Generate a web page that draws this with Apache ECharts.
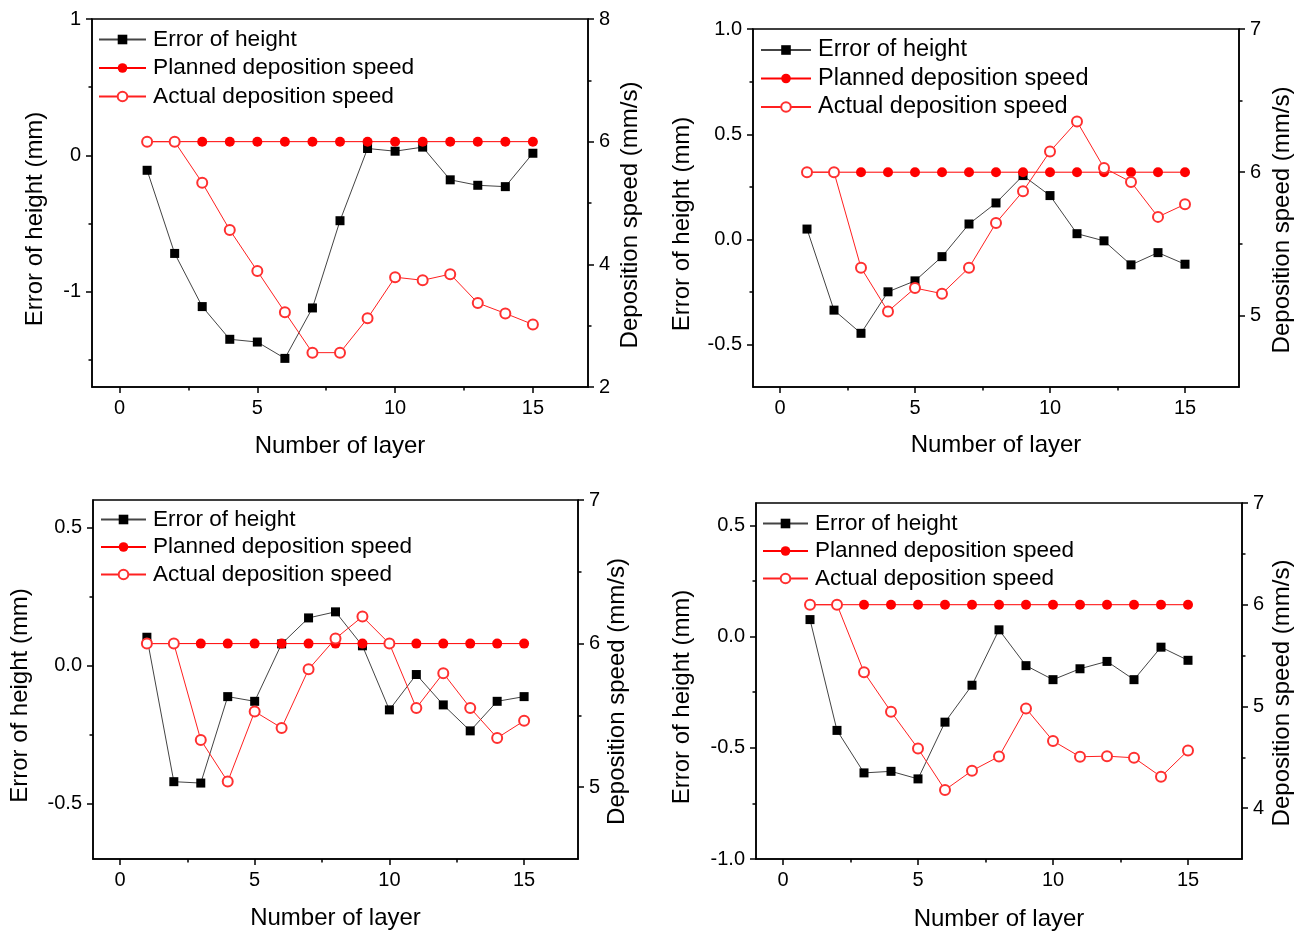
<!DOCTYPE html>
<html>
<head>
<meta charset="utf-8">
<script src="https://cdn.jsdelivr.net/npm/echarts@6/dist/echarts.min.js"></script>
<style>
  html, body { margin: 0; padding: 0; background: #fff; }
  #chart { width: 1298px; height: 932px; }
</style>
</head>
<body>
<div id="chart"></div>
<script>
// Layer numbers shared by all four experiments
const layers = [1, 2, 3, 4, 5, 6, 7, 8, 9, 10, 11, 12, 13, 14, 15];
const plannedSpeed = [6, 6, 6, 6, 6, 6, 6, 6, 6, 6, 6, 6, 6, 6, 6];

// Experiment A (top left)
const errorA = [-0.11, -0.72, -1.11, -1.35, -1.37, -1.49, -1.12, -0.48, 0.05, 0.03, 0.06, -0.18, -0.22, -0.23, 0.015];
const speedA = [6.0, 6.0, 5.33, 4.56, 3.89, 3.22, 2.56, 2.56, 3.12, 3.79, 3.74, 3.84, 3.37, 3.20, 3.02];

// Experiment B (top right)
const errorB = [0.05, -0.335, -0.445, -0.248, -0.196, -0.081, 0.074, 0.174, 0.304, 0.209, 0.028, -0.006, -0.12, -0.062, -0.117];
const speedB = [6.0, 6.0, 5.333, 5.028, 5.191, 5.152, 5.333, 5.646, 5.867, 6.145, 6.354, 6.03, 5.932, 5.688, 5.776];

// Experiment C (bottom left)
const errorC = [0.103, -0.42, -0.425, -0.112, -0.129, 0.079, 0.173, 0.195, 0.072, -0.16, -0.032, -0.142, -0.236, -0.129, -0.112];
const speedC = [6.0, 6.0, 5.329, 5.039, 5.527, 5.413, 5.821, 6.035, 6.188, 6.0, 5.552, 5.794, 5.552, 5.343, 5.462];

// Experiment D (bottom right)
const errorD = [0.076, -0.422, -0.613, -0.606, -0.64, -0.385, -0.219, 0.03, -0.131, -0.194, -0.145, -0.112, -0.194, -0.048, -0.107];
const speedD = [6.0, 6.0, 5.336, 4.948, 4.586, 4.179, 4.368, 4.508, 4.98, 4.661, 4.505, 4.511, 4.495, 4.309, 4.567];

// Tick values
const layerTicks = [0, 5, 10, 15];
const layerMinorTicks = [2.5, 7.5, 12.5];
const errorTicksA = [-1, 0, 1];
const errorMinorA = [-1.5, -0.5, 0.5];
const speedTicksA = [2, 4, 6, 8];
const speedMinorA = [3, 5, 7];
const errorTicksB = [-0.5, 0, 0.5, 1];
const errorMinorB = [-0.25, 0.25, 0.75];
const speedTicksB = [5, 6, 7];
const speedMinorB = [5.5, 6.5];
const errorTicksC = [-0.5, 0, 0.5];
const errorMinorC = [-0.25, 0.25];
const speedTicksC = [5, 6, 7];
const speedMinorC = [5.5, 6.5];
const errorTicksD = [-1, -0.5, 0, 0.5];
const errorMinorD = [-0.75, -0.25, 0.25];
const speedTicksD = [4, 5, 6, 7];
const speedMinorD = [4.5, 5.5, 6.5];

const seriesNames = ['Error of height', 'Planned deposition speed', 'Actual deposition speed'];
const xTitle = 'Number of layer';
const leftTitle = 'Error of height (mm)';
const rightTitle = 'Deposition speed (mm/s)';

const FONT = '"Liberation Sans", Arial, sans-serif';

const panels = [
  { grid: { left: 92, top: 19, width: 496, height: 368 },
    err: errorA, speed: speedA,
    errRange: [-1.7, 1], errTicks: errorTicksA, errMinor: errorMinorA, errDigits: 0,
    speedRange: [2, 8], speedTicks: speedTicksA, speedMinor: speedMinorA,
    legend: { left: 98, top: 28, width: 47, font: 22.7, gap: 5.5 },
    gaps: { x: 47, left: 45, right: 30 }, shift: { left: 32, right: 24 } },
  { grid: { left: 753, top: 29, width: 486, height: 358 },
    err: errorB, speed: speedB,
    errRange: [-0.7, 1], errTicks: errorTicksB, errMinor: errorMinorB, errDigits: 1,
    speedRange: [4.5, 7], speedTicks: speedTicksB, speedMinor: speedMinorB,
    legend: { left: 760, top: 38, width: 50, font: 23.5, gap: 4.5 },
    gaps: { x: 46, left: 59, right: 31 }, shift: { left: 32, right: 24 } },
  { grid: { left: 93, top: 500, width: 485, height: 359 },
    err: errorC, speed: speedC,
    errRange: [-0.7, 0.6], errTicks: errorTicksC, errMinor: errorMinorC, errDigits: 1,
    speedRange: [4.5, 7], speedTicks: speedTicksC, speedMinor: speedMinorC,
    legend: { left: 100, top: 508, width: 45, font: 22.5, gap: 4.5 },
    gaps: { x: 47, left: 61, right: 27 }, shift: { left: 32, right: 24 } },
  { grid: { left: 756, top: 503, width: 486, height: 358 },
    err: errorD, speed: speedD,
    errRange: [-1, 0.6], errTicks: errorTicksD, errMinor: errorMinorD, errDigits: 1,
    speedRange: [3.5, 7], speedTicks: speedTicksD, speedMinor: speedMinorD,
    legend: { left: 762, top: 512, width: 45, font: 22.5, gap: 4.5 },
    gaps: { x: 48, left: 62, right: 28 }, shift: { left: 32, right: 24 } }
];

const labelStyle = { fontFamily: FONT, fontSize: 20, color: '#000', margin: 11 };
const titleStyle = { fontFamily: FONT, fontSize: 24, color: '#000' };
const lineBlack = { color: '#000', width: 1.5 };

function majorTicks(values) {
  return { show: true, inside: false, length: 6, lineStyle: lineBlack, customValues: values };
}
function minorAxisTicks(values) {
  return { show: true, inside: false, length: 3.5, lineStyle: lineBlack, customValues: values };
}
const shownLine = { show: true, onZero: false, lineStyle: lineBlack };
const hiddenLine = { show: false, onZero: false };

const grids = [], xAxes = [], yAxes = [], series = [], legends = [];

panels.forEach((p, i) => {
  grids.push(Object.assign({ show: true, borderColor: '#000', borderWidth: 1.5, backgroundColor: 'transparent' }, p.grid));

  // bottom axis: numbered ticks + half-step minor ticks
  xAxes.push({
    type: 'value', gridIndex: i, min: -1, max: 17, position: 'bottom',
    name: xTitle, nameLocation: 'middle', nameGap: p.gaps.x, nameTextStyle: titleStyle,
    axisLine: shownLine,
    axisTick: majorTicks(layerTicks),
    axisLabel: Object.assign({ customValues: layerTicks }, labelStyle),
    splitLine: { show: false }
  });
  xAxes.push({
    type: 'value', gridIndex: i, min: -1, max: 17, position: 'bottom',
    axisLine: hiddenLine, axisLabel: { show: false },
    axisTick: minorAxisTicks(layerMinorTicks), splitLine: { show: false }
  });

  const digits = p.errDigits;
  yAxes.push({
    type: 'value', gridIndex: i, position: 'left', min: p.errRange[0], max: p.errRange[1],
    name: leftTitle, nameLocation: 'middle', nameRotate: 90, nameGap: p.gaps.left,
    nameTextStyle: Object.assign({ padding: [0, p.shift.left, 0, 0] }, titleStyle),
    axisLine: shownLine,
    axisTick: majorTicks(p.errTicks),
    axisLabel: Object.assign({ customValues: p.errTicks, formatter: v => Number(v).toFixed(digits) }, labelStyle),
    splitLine: { show: false }
  });
  yAxes.push({
    type: 'value', gridIndex: i, position: 'right', min: p.speedRange[0], max: p.speedRange[1],
    name: rightTitle, nameLocation: 'middle', nameRotate: 90, nameGap: p.gaps.right,
    nameTextStyle: Object.assign({ padding: [0, p.shift.right, 0, 0] }, titleStyle),
    axisLine: shownLine,
    axisTick: majorTicks(p.speedTicks),
    axisLabel: Object.assign({ customValues: p.speedTicks, formatter: v => String(v) }, labelStyle),
    splitLine: { show: false }
  });
  yAxes.push({
    type: 'value', gridIndex: i, position: 'left', min: p.errRange[0], max: p.errRange[1],
    axisLine: hiddenLine, axisLabel: { show: false },
    axisTick: minorAxisTicks(p.errMinor), splitLine: { show: false }
  });
  yAxes.push({
    type: 'value', gridIndex: i, position: 'right', min: p.speedRange[0], max: p.speedRange[1],
    axisLine: hiddenLine, axisLabel: { show: false },
    axisTick: minorAxisTicks(p.speedMinor), splitLine: { show: false }
  });

  const xi = 2 * i, yl = 4 * i, yr = 4 * i + 1;
  series.push({
    name: seriesNames[0], type: 'line', xAxisIndex: xi, yAxisIndex: yl,
    data: layers.map((l, k) => [l, p.err[k]]),
    symbol: 'rect', symbolSize: 9, showAllSymbol: true,
    lineStyle: { color: '#444', width: 1 },
    itemStyle: { color: '#000' }, z: 2
  });
  series.push({
    name: seriesNames[1], type: 'line', xAxisIndex: xi, yAxisIndex: yr,
    data: layers.map((l, k) => [l, plannedSpeed[k]]),
    symbol: 'circle', symbolSize: 10, showAllSymbol: true,
    lineStyle: { color: '#ff0000', width: 1 },
    itemStyle: { color: '#ff0000' }, z: 3
  });
  series.push({
    name: seriesNames[2], type: 'line', xAxisIndex: xi, yAxisIndex: yr,
    data: layers.map((l, k) => [l, p.speed[k]]),
    symbol: 'emptyCircle', symbolSize: 10, showAllSymbol: true,
    lineStyle: { color: '#ff2020', width: 1 },
    itemStyle: { color: '#ff3030', borderWidth: 1.2 }, z: 4
  });

  legends.push({
    left: p.legend.left, top: p.legend.top, orient: 'vertical', padding: 0,
    itemWidth: p.legend.width, itemHeight: 12, itemGap: p.legend.gap,
    selectedMode: false,
    textStyle: { fontFamily: FONT, fontSize: p.legend.font, color: '#000', lineHeight: 22, padding: [0, 0, 0, 2] },
    data: seriesNames
  });
});

const chart = echarts.init(document.getElementById('chart'), null, { renderer: 'canvas' });
chart.setOption({
  animation: false,
  backgroundColor: '#fff',
  grid: grids,
  xAxis: xAxes,
  yAxis: yAxes,
  legend: legends,
  series: series
});
</script>
</body>
</html>
